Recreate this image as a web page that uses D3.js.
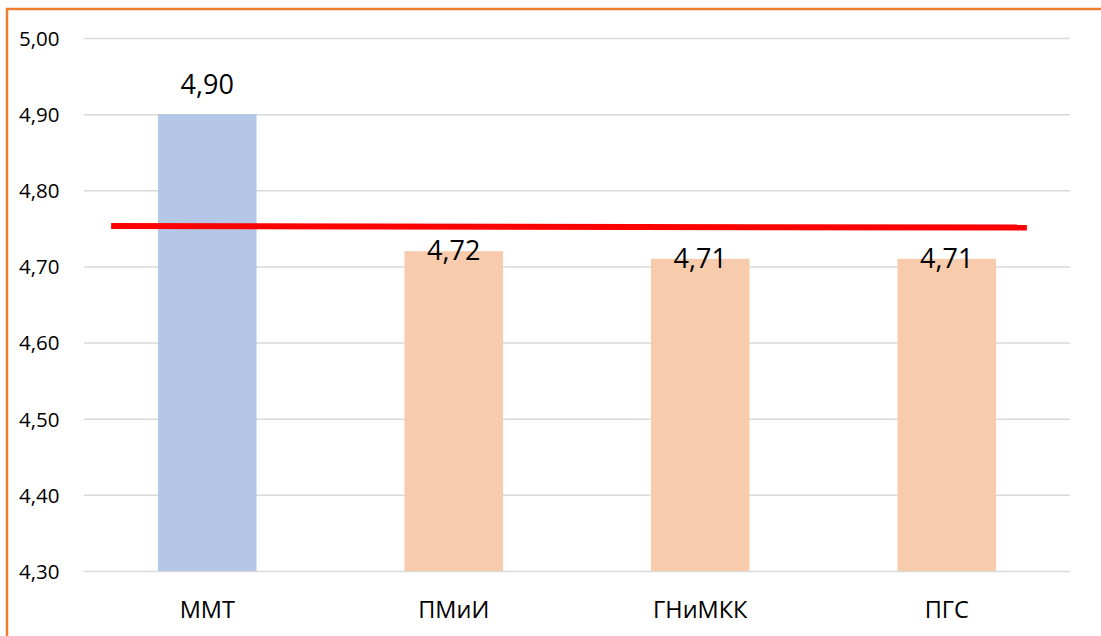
<!DOCTYPE html>
<html><head><meta charset="utf-8">
<script src="https://cdn.jsdelivr.net/npm/d3@7"></script>
<style>body{margin:0;background:#fff}svg{display:block}</style>
</head><body>
<svg id="c" width="1101" height="636"></svg>
<script>
const categories = ["ММТ", "ПМиИ", "ГНиМКК", "ПГС"];
const values = [4.90, 4.72, 4.71, 4.71];
const valueLabels = ["4,90", "4,72", "4,71", "4,71"];
const barColors = ["#b4c7e7", "#f8cbad", "#f8cbad", "#f8cbad"];
const yTicks = [4.30, 4.40, 4.50, 4.60, 4.70, 4.80, 4.90, 5.00];
const yTickLabels = ["4,30", "4,40", "4,50", "4,60", "4,70", "4,80", "4,90", "5,00"];
// reference line: position in category-index units, value
const refLinePos = [-0.39, 3.325];
const refLineVals = [4.753, 4.751];
const labelPlacement = ["above", "top", "top", "top"];

const font = "'Open Sans', sans-serif";
const svg = d3.select("#c");
const W = 1101, H = 636;
const m = {left: 84, right: 31, top: 38, bottom: 65};

// frame
svg.append("path").attr("d", `M7,${H} V9 H${W}`).attr("fill","none")
  .attr("stroke","#ed7d31").attr("stroke-width",2.5);

const x = d3.scaleBand().domain(categories).range([m.left, W - m.right]).paddingInner(0.6).paddingOuter(0.3);
const y = d3.scaleLinear().domain([4.30, 5.00]).range([H - m.bottom, m.top]);
const xi = d3.scaleLinear().domain([0, categories.length - 1])
  .range([x(categories[0]) + x.bandwidth()/2, x(categories[categories.length-1]) + x.bandwidth()/2]);

// gridlines
const yAxis = d3.axisLeft(y).tickValues(yTicks).tickSize(-(W - m.right - m.left))
  .tickFormat((d,i) => yTickLabels[i]);
const gy = svg.append("g").attr("transform", `translate(${m.left},0)`).call(yAxis);
gy.select(".domain").remove();
gy.selectAll(".tick line").attr("stroke","#d9d9d9").attr("stroke-width",1.5);
gy.selectAll(".tick text").attr("font-family", font).attr("font-size", 20.5).attr("fill","#000")
  .attr("text-anchor","start").attr("x", -m.left + 19).attr("dy", "0.36em");

// bars
svg.append("g").selectAll("rect").data(values).join("rect")
  .attr("x", (d,i) => x(categories[i]))
  .attr("width", x.bandwidth())
  .attr("y", d => y(d))
  .attr("height", d => y(4.30) - y(d))
  .attr("fill", (d,i) => barColors[i]);

// x axis labels
const xAxis = d3.axisBottom(x).tickSize(0);
const gx = svg.append("g").attr("transform", `translate(0,${H - m.bottom})`).call(xAxis);
gx.select(".domain").remove();
gx.selectAll(".tick text").attr("font-family", font).attr("font-size", 23.5).attr("fill","#000")
  .attr("y", 47).attr("dy", 0);

// reference line
const line = d3.line().x(d => xi(d[0])).y(d => y(d[1]));
svg.append("path").datum(refLinePos.map((p,i) => [p, refLineVals[i]]))
  .attr("d", line).attr("stroke", "#ff0000").attr("stroke-width", 6).attr("fill","none");

// value labels
svg.append("g").selectAll("text").data(values).join("text")
  .attr("x", (d,i) => x(categories[i]) + x.bandwidth()/2)
  .attr("y", (d,i) => labelPlacement[i] === "above" ? y(d) - 20 : y(d) + 9)
  .attr("text-anchor","middle")
  .attr("font-family", font).attr("font-size", 27).attr("fill","#000")
  .text((d,i) => valueLabels[i]);
</script>
</body></html>
